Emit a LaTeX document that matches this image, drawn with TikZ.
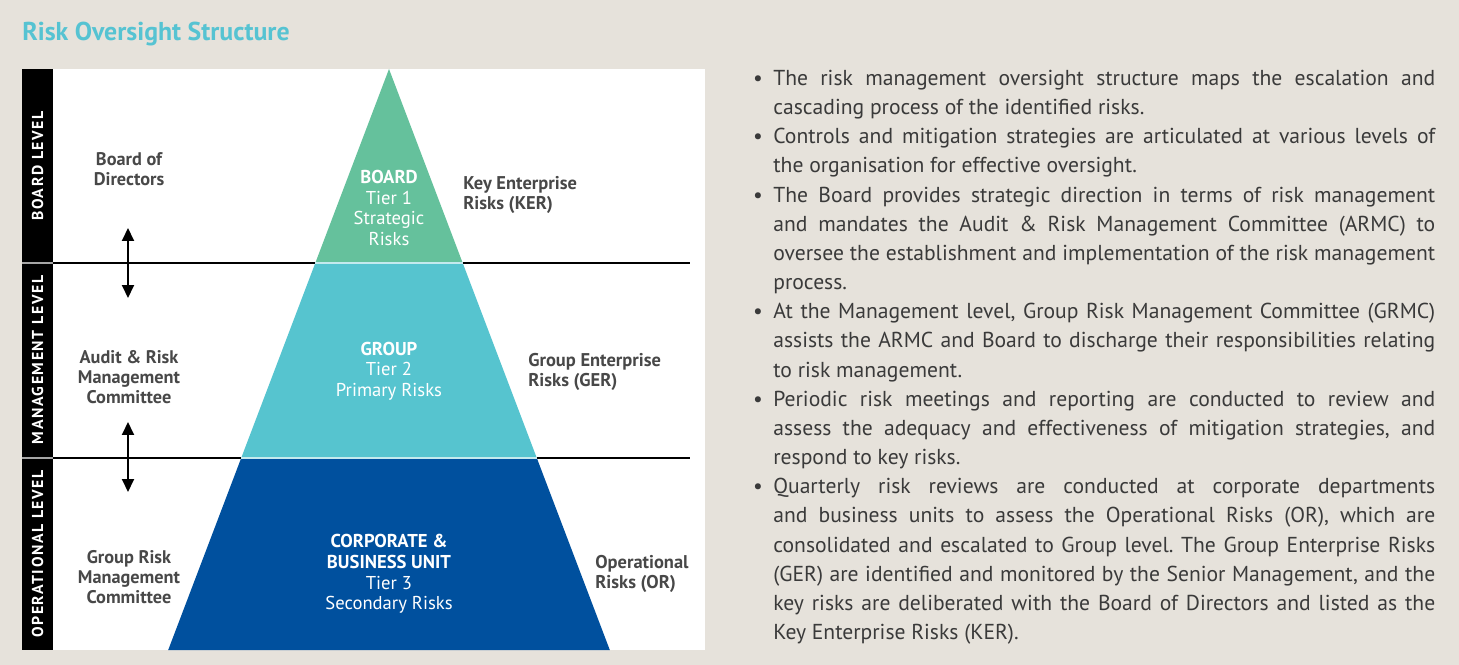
\documentclass[tikz,border=0pt]{standalone}
\usepackage{fontspec}
\setmainfont{PT Sans}
\newfontfamily\bodyfont{PT Sans}
\usetikzlibrary{arrows.meta,positioning}
\frenchspacing
\definecolor{paper}{HTML}{E6E2DB}
\definecolor{titlecyan}{HTML}{56C3D2}
\definecolor{tiergreen}{HTML}{65C19C}
\definecolor{tiercyan}{HTML}{56C4CF}
\definecolor{tierblue}{HTML}{00509E}
\definecolor{inkgray}{HTML}{484848}
\definecolor{bodygray}{HTML}{3A3A3A}
\tikzset{
  lvl/.style={rotate=90, text=white, inner sep=0pt, font=\fontsize{9}{11}\selectfont\bfseries\addfontfeatures{LetterSpace=10}},
  who/.style={align=center, text=inkgray, inner sep=0pt, font=\fontsize{10.4}{11.4}\selectfont\bfseries},
  risk/.style={align=left, anchor=west, text=inkgray, inner sep=0pt, font=\fontsize{10.5}{11.6}\selectfont\bfseries},
  tier/.style={align=center, text=white, inner sep=0pt, font=\fontsize{10.6}{11.7}\selectfont},
  divl/.style={line width=.6pt, draw=black},
  seam/.style={line width=1pt, draw=white!65!tiercyan},
  updn/.style={{Triangle[length=2.6mm,width=2.4mm]}-{Triangle[length=2.6mm,width=2.4mm]}, line width=1.1pt},
}

\begin{document}
\begin{tikzpicture}[x=0.02cm, y=-0.02cm]
    \useasboundingbox (0,0) rectangle (1459,665);
    \fill[paper] (0,0) rectangle (1459,665);
    \node[anchor=base west, inner sep=0pt, text=titlecyan, font=\fontsize{14.7}{17}\selectfont\bfseries] (title) at (22,40.5) {Risk Oversight Structure};

    % panel
    \fill[white] (53,69) rectangle (705,650);
    \fill[black] (22,69) rectangle (53,650);
    \foreach \y in {263,458}{
      \draw[divl] (53,\y) -- (690,\y);
      \draw[gray!70, line width=1.2pt] (22,\y) -- (53,\y);
    }
    \foreach \y/\t [count=\i] in {166/BOARD LEVEL,360/MANAGEMENT LEVEL,554/OPERATIONAL LEVEL}{
      \node[lvl] (lv\i) at (37.5,\y) {\t};
    }

    % pyramid
    \coordinate (apex) at (389,69);
    \coordinate (g1) at (315.3,263); \coordinate (g2) at (462.7,263);
    \coordinate (c1) at (241.2,458); \coordinate (c2) at (536.8,458);
    \coordinate (b1) at (168.2,650); \coordinate (b2) at (609.8,650);
    \fill[tiergreen] (apex) -- (g2) -- (g1) -- cycle;
    \fill[tiercyan] (g1) -- (g2) -- (c2) -- (c1) -- cycle;
    \fill[tierblue] (c1) -- (c2) -- (b2) -- (b1) -- cycle;
    \draw[seam] (g1) -- (g2);
    \draw[seam] (c1) -- (c2);

    \node[tier] (t1) at (389,208) {\textbf{BOARD}\\Tier 1\\Strategic\\Risks};
    \node[tier] (t2) at (389,371) {\textbf{GROUP}\\Tier 2\\Primary Risks};
    \node[tier] (t3) at (389,574) {\textbf{CORPORATE \&}\\\textbf{BUSINESS UNIT}\\Tier 3\\Secondary Risks};

    % who oversees
    \node[who] (bod) at (129,169) {Board of\\Directors};
    \node[who] (armc) at (129,377) {Audit \& Risk\\Management\\Committee};
    \node[who] (grmc) at (129,577) {Group Risk\\Management\\Committee};
    \foreach \a/\b [count=\i] in {228/298,422/492}{
      \coordinate (up\i) at (128,\a);
      \coordinate (dn\i) at (128,\b);
      \draw[updn] (up\i) -- (dn\i);
    }

    % risk registers
    \node[risk] (ker) at (463,195) {Key Enterprise\\Risks (KER)};
    \node[risk] (ger) at (528,372) {Group Enterprise\\Risks (GER)};
    \node[risk] (opr) at (595,574) {Operational\\Risks (OR)};

    % notes
    \node[anchor=north west, inner sep=0pt, text width=13.24cm, align=justify, text=bodygray,
          font=\bodyfont\fontsize{12.3}{16.6}\selectfont] (notes) at (773,67.5) {%
      \rule{0pt}{10pt}\noindent\llap{\textbullet\hspace{6pt}}The risk management oversight structure maps the escalation and\linebreak
      cascading process of the identified risks.\par
      \noindent\llap{\textbullet\hspace{6pt}}Controls and mitigation strategies are articulated at various levels of\linebreak
      the organisation for effective oversight.\par
      \noindent\llap{\textbullet\hspace{6pt}}The Board provides strategic direction in terms of risk management\linebreak
      and mandates the Audit \& Risk Management Committee (ARMC) to\linebreak
      oversee the establishment and implementation of the risk management\linebreak
      process.\par
      \noindent\llap{\textbullet\hspace{6pt}}At the Management level, Group Risk Management Committee (GRMC)\linebreak
      assists the ARMC and Board to discharge their responsibilities relating\linebreak
      to risk management.\par
      \noindent\llap{\textbullet\hspace{6pt}}Periodic risk meetings and reporting are conducted to review and\linebreak
      assess the adequacy and effectiveness of mitigation strategies, and\linebreak
      respond to key risks.\par
      \noindent\llap{\textbullet\hspace{6pt}}Quarterly risk reviews are conducted at corporate departments\linebreak
      and business units to assess the Operational Risks (OR), which are\linebreak
      consolidated and escalated to Group level. The Group Enterprise Risks\linebreak
      (GER) are identified and monitored by the Senior Management, and the\linebreak
      key risks are deliberated with the Board of Directors and listed as the\linebreak
      Key Enterprise Risks (KER).};
\end{tikzpicture}
\end{document}
